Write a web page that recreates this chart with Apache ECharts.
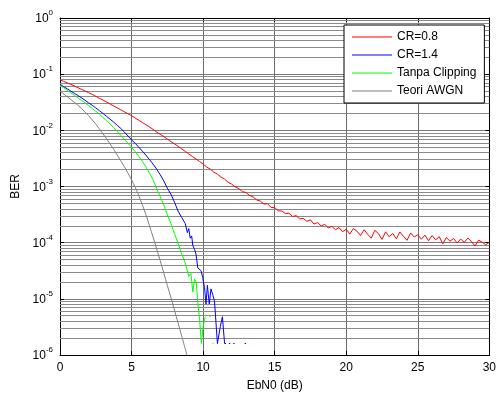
<!DOCTYPE html>
<html><head><meta charset="utf-8">
<script src="https://cdn.jsdelivr.net/npm/echarts@6/dist/echarts.min.js"></script>
<style>html,body{margin:0;padding:0;background:#fff}#c{width:499px;height:397px}</style>
</head><body><div id="c"></div>
<script>
// ---------- data ----------
const xTicks = [0, 5, 10, 15, 20, 25, 30];
const yTickExponents = [-6, -5, -4, -3, -2, -1, 0];
const seriesNames = ['CR=0.8', 'CR=1.4', 'Tanpa Clipping', 'Teori AWGN'];
const xName = 'EbN0 (dB)';
const yName = 'BER';

// CR=0.8 : EbN0 = 0 .. 30 step 0.25
const cr08Start = 0, cr08Step = 0.25;
const berCR08 = [
  0.0794,0.0746,0.0700,0.0661,0.0617,0.0575,0.0537,0.0501,0.0468,0.0437,
  0.0403,0.0372,0.0347,0.0320,0.0295,0.0272,0.0251,0.0232,0.0214,0.0197,
  0.0182,0.0166,0.0151,0.0138,0.0126,0.0115,0.0104,0.00933,0.00851,0.00776,
  0.00700,0.00631,0.00575,0.00519,0.00468,0.00422,0.00380,0.00343,0.00309,0.00279,
  0.00251,0.00222,0.00204,0.00180,0.00166,0.00147,0.00135,0.00119,0.00110,0.000977,
  0.000920,0.000812,0.000780,0.000690,0.000650,0.000575,0.000550,0.000485,0.000495,0.000425,
  0.000420,0.000370,0.000365,0.000330,0.000335,0.000292,0.000303,0.000265,0.000270,0.000240,
  0.000255,0.000215,0.000228,0.000198,0.000212,0.000182,0.000196,0.000170,0.000186,0.000156,
  0.000174,0.000142,0.000178,0.000160,0.000134,0.000170,0.000141,0.000120,0.000166,0.000145,
  0.000114,0.000156,0.000128,0.000146,0.000117,0.000155,0.000130,0.000110,0.000149,0.000126,
  0.000139,0.000115,0.000136,0.000108,0.000134,0.000112,0.000128,0.0000955,0.000124,0.000106,
  0.000119,0.0000985,0.000116,0.000101,0.000121,0.000105,0.0000871,0.000111,0.000102,0.0000915,
  0.000101
];

// CR=1.4 : main part EbN0 = 0 .. 8.75 step 0.25, then irregular tail
const mainStart = 0, mainStep = 0.25;
const berCR14Main = [
  0.0661,0.0603,0.0550,0.0501,0.0457,0.0417,0.0380,0.0343,0.0309,0.0279,
  0.0251,0.0224,0.0200,0.0178,0.0158,0.0140,0.0123,0.0108,0.00933,0.00794,
  0.00676,0.00589,0.00501,0.00427,0.00363,0.00302,0.00251,0.00204,0.00162,0.00126,
  0.000933,0.000730,0.000525,0.000365,0.000282,0.000219
];
const ebnoCR14Tail = [8.9,9.0,9.1,9.2,9.28,9.4,9.5,9.63,9.75,9.86,9.97,10.1,10.2,10.3,10.43,10.55,10.67,10.8,11.0,11.2,11.35,11.5,11.6,11.7,11.8,11.9,12.0,12.1,12.2,12.3,12.9,13.0];
const berCR14Tail = [1.51e-4,1.78e-4,1.20e-4,1.32e-4,8.9e-5,7.6e-5,6.3e-5,3.55e-5,3.8e-5,3.16e-5,2.4e-5,1.58e-5,8.1e-6,1.74e-5,8.1e-6,1.5e-5,1.2e-5,8.9e-6,1.6e-6,3.2e-6,4.8e-6,1.6e-6,1.6e-6,null,1.6e-6,1.6e-6,null,1.6e-6,1.6e-6,null,1.6e-6,1.6e-6];

// Tanpa Clipping
const berNoClipMain = [
  0.0631,0.0575,0.0519,0.0468,0.0422,0.0380,0.0343,0.0309,0.0275,0.0245,
  0.0219,0.0195,0.0170,0.0148,0.0129,0.0112,0.00955,0.00813,0.00692,0.00589,
  0.00501,0.00417,0.00347,0.00282,0.00224,0.00174,0.00132,0.000933,0.000661,0.000468,
  0.000316,0.000219,0.000145,0.0000977,0.0000631,0.0000437
];
const ebnoNoClipTail = [9.0,9.15,9.28,9.4,9.52,9.63,9.75,9.88,10.0,10.15,10.3,10.42,10.52,10.6,10.65,10.72];
const berNoClipTail = [2.51e-5,2.82e-5,1.32e-5,2.24e-5,2.0e-5,8.3e-6,4.5e-6,1.6e-6,3.2e-6,4.8e-6,null,4.8e-6,4.8e-6,null,1.6e-6,1.6e-6];

// Teori AWGN : EbN0 = 0 .. 9 step 0.5
const awgnStart = 0, awgnStep = 0.5;
const berAWGN = [0.0501,0.0398,0.0316,0.0245,0.0182,0.0129,0.00871,0.00575,0.00363,0.00224,0.00132,0.000692,0.000316,0.000126,4.79e-5,1.74e-5,6.31e-6,2.19e-6,7.6e-7];

// ---------- build ----------
const gridPairs = (start, step, ys) => ys.map((y, i) => [start + i * step, y]);
const pairs = (xs, ys) => xs.map((x, i) => [x, ys[i]]);

const dataCR08 = gridPairs(cr08Start, cr08Step, berCR08);
const dataCR14 = gridPairs(mainStart, mainStep, berCR14Main).concat(pairs(ebnoCR14Tail, berCR14Tail));
const dataNoClip = gridPairs(mainStart, mainStep, berNoClipMain).concat(pairs(ebnoNoClipTail, berNoClipTail));
const dataAWGN = gridPairs(awgnStart, awgnStep, berAWGN);

const yMin = Math.pow(10, yTickExponents[0]);
const yMax = Math.pow(10, yTickExponents[yTickExponents.length - 1]);
const minorVals = [];
for (let k = yTickExponents[0]; k < yTickExponents[yTickExponents.length - 1]; k++) {
  for (let m = 2; m <= 9; m++) minorVals.push(m * Math.pow(10, k));
}

const FONT = 'Liberation Sans, Arial, sans-serif';
const chart = echarts.init(document.getElementById('c'), null, {renderer: 'canvas'});

const baseY = (pos, labels) => ({
  type: 'log', logBase: 10, min: yMin, max: yMax, position: pos,
  axisLine: {show: true, lineStyle: {color: '#000', width: 1}},
  axisTick: {show: true, inside: true, length: 4, lineStyle: {color: '#000'}},
  splitLine: {show: false},
  axisLabel: labels ? {
    show: true, margin: 7, fontFamily: FONT, color: '#000',
    formatter: v => '{b|10}{e|' + Math.round(Math.log10(v)) + '}',
    rich: {
      b: {fontSize: 12, fontFamily: FONT, color: '#000', lineHeight: 14, verticalAlign: 'bottom'},
      e: {fontSize: 8, fontFamily: FONT, color: '#000', lineHeight: 8, padding: [0, 0, 8, 0], verticalAlign: 'bottom'}
    }
  } : {show: false}
});
const minorY = (pos) => ({
  type: 'log', logBase: 10, min: yMin, max: yMax, position: pos,
  axisLine: {show: false},
  axisTick: {show: true, inside: true, length: 4, customValues: minorVals, lineStyle: {color: '#000'}},
  axisLabel: {show: false},
  splitLine: {show: false}
});

const lineSeries = (name, data, color, extra) => Object.assign({
  name, type: 'line', data, showSymbol: false, symbol: 'none', xAxisIndex: 0, yAxisIndex: 0,
  lineStyle: {color, width: 1}, itemStyle: {color}, clip: true, z: 5, animation: false,
  connectNulls: false
}, extra || {});

const option = {
  animation: false,
  backgroundColor: '#fff',
  textStyle: {fontFamily: FONT},
  grid: {left: 60, right: 8, top: 18, bottom: 39, containLabel: false},
  legend: {
    data: seriesNames, orient: 'vertical', left: 344, top: 25,
    backgroundColor: '#fff', borderColor: '#000', borderWidth: 1,
    padding: [6, 8, 6, 8], itemGap: 6, itemWidth: 40, itemHeight: 1, icon: 'rect',
    selectedMode: false, textStyle: {fontFamily: FONT, fontSize: 12, color: '#000'}, z: 20
  },
  xAxis: [
    {
      type: 'value', min: xTicks[0], max: xTicks[xTicks.length - 1], interval: xTicks[1] - xTicks[0], position: 'bottom',
      name: xName, nameLocation: 'middle', nameGap: 25, nameTextStyle: {fontFamily: FONT, fontSize: 12, color: '#000'},
      axisLine: {show: true, onZero: false, lineStyle: {color: '#000', width: 1}},
      axisTick: {show: true, inside: true, length: 4, lineStyle: {color: '#000'}},
      axisLabel: {show: true, margin: 7, fontFamily: FONT, fontSize: 12, color: '#000'},
      splitLine: {show: true, lineStyle: {color: '#6a6a6a', width: 1}}
    },
    {
      type: 'value', min: xTicks[0], max: xTicks[xTicks.length - 1], interval: xTicks[1] - xTicks[0], position: 'top',
      axisLine: {show: true, onZero: false, lineStyle: {color: '#000', width: 1}},
      axisTick: {show: true, inside: true, length: 4, lineStyle: {color: '#000'}},
      axisLabel: {show: false}, splitLine: {show: false}
    }
  ],
  yAxis: [
    Object.assign(baseY('left', true), {
      name: yName, nameLocation: 'middle', nameGap: 28, nameRotate: 90,
      nameTextStyle: {fontFamily: FONT, fontSize: 12, color: '#000'},
      splitLine: {show: true, lineStyle: {color: '#7a7a7a', width: 1}}
    }),
    minorY('left'),
    baseY('right', false),
    minorY('right')
  ],
  series: [
    {
      name: 'minorGrid', type: 'line', data: [], xAxisIndex: 0, yAxisIndex: 0, z: 1, silent: true,
      markLine: {
        silent: true, symbol: 'none', animation: false, label: {show: false}, precision: 12,
        lineStyle: {color: '#8a8a8a', width: 1, type: 'solid'},
        emphasis: {disabled: true},
        data: minorVals.map(v => ({yAxis: v}))
      }
    },
    lineSeries(seriesNames[0], dataCR08, '#ff0000'),
    lineSeries(seriesNames[1], dataCR14, '#0000ff'),
    lineSeries(seriesNames[2], dataNoClip, '#00ff00'),
    lineSeries(seriesNames[3], dataAWGN, '#808080', {smooth: 0.3})
  ]
};
chart.setOption(option);
</script>
</body></html>
